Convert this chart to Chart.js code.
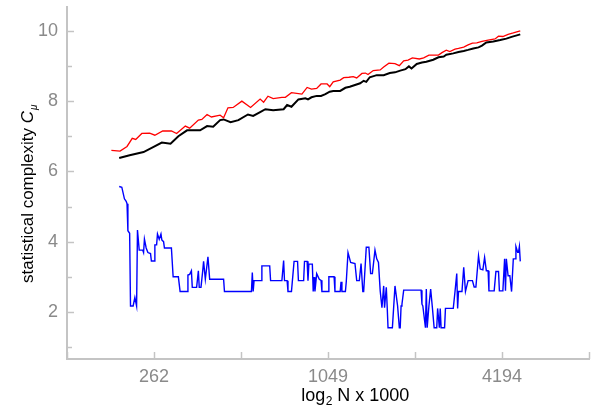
<!DOCTYPE html>
<html>
<head>
<meta charset="utf-8">
<script src="https://cdn.jsdelivr.net/npm/chart.js@4/dist/chart.umd.min.js"></script>
<style>
  html, body { margin: 0; padding: 0; background: #fff; }
  canvas { display: block; }
</style>
</head>
<body>
<canvas id="grafico" width="595" height="407"></canvas>
<script>
// x values are log2 N, y values are statistical complexity
const redX = [17.51, 17.61, 17.69, 17.75, 17.79, 17.86, 17.95, 18.01, 18.10, 18.20, 18.26, 18.36, 18.41, 18.51, 18.55, 18.61, 18.66, 18.76, 18.80, 18.85, 18.91, 19.01, 19.11, 19.22, 19.26, 19.31, 19.37, 19.47, 19.51, 19.58, 19.70, 19.76, 19.81, 19.87, 19.92, 19.99, 20.02, 20.06, 20.14, 20.18, 20.24, 20.29, 20.33, 20.39, 20.43, 20.46, 20.52, 20.60, 20.64, 20.70, 20.77, 20.82, 20.87, 20.92, 20.97, 21.05, 21.10, 21.16, 21.27, 21.31, 21.36, 21.40, 21.46, 21.50, 21.56, 21.61, 21.66, 21.71, 21.77, 21.84, 21.92, 21.96, 22.01, 22.07, 22.13, 22.21];
const redY = [6.60, 6.58, 6.71, 6.94, 6.91, 7.08, 7.09, 7.03, 7.15, 7.15, 7.08, 7.29, 7.23, 7.46, 7.48, 7.62, 7.55, 7.60, 7.53, 7.81, 7.82, 8.00, 7.82, 8.06, 7.97, 8.14, 8.07, 8.11, 8.11, 8.24, 8.20, 8.39, 8.34, 8.36, 8.49, 8.49, 8.41, 8.55, 8.60, 8.67, 8.68, 8.70, 8.66, 8.79, 8.80, 8.76, 8.87, 8.89, 8.97, 9.08, 9.07, 9.01, 9.15, 9.17, 9.23, 9.20, 9.23, 9.31, 9.31, 9.38, 9.45, 9.41, 9.48, 9.50, 9.54, 9.60, 9.65, 9.66, 9.70, 9.74, 9.77, 9.85, 9.84, 9.90, 9.94, 10.00];

const blackX = [17.60, 17.72, 17.88, 17.99, 18.09, 18.19, 18.28, 18.38, 18.53, 18.61, 18.68, 18.76, 18.80, 18.88, 18.97, 19.08, 19.14, 19.22, 19.28, 19.37, 19.49, 19.53, 19.58, 19.66, 19.74, 19.77, 19.81, 19.87, 19.92, 19.97, 20.02, 20.06, 20.14, 20.20, 20.25, 20.31, 20.37, 20.41, 20.44, 20.48, 20.56, 20.64, 20.71, 20.77, 20.83, 20.89, 20.93, 20.96, 21.02, 21.08, 21.13, 21.21, 21.27, 21.33, 21.36, 21.44, 21.50, 21.56, 21.61, 21.67, 21.73, 21.77, 21.82, 21.90, 21.98, 22.05, 22.11, 22.21];
const blackY = [6.38, 6.46, 6.55, 6.69, 6.82, 6.79, 7.00, 7.17, 7.17, 7.29, 7.27, 7.46, 7.48, 7.40, 7.46, 7.62, 7.58, 7.69, 7.77, 7.74, 7.77, 7.89, 7.84, 8.05, 8.08, 8.05, 8.11, 8.15, 8.15, 8.20, 8.27, 8.29, 8.29, 8.38, 8.41, 8.46, 8.51, 8.58, 8.55, 8.68, 8.74, 8.74, 8.80, 8.82, 8.87, 8.91, 8.99, 8.93, 9.06, 9.10, 9.12, 9.18, 9.25, 9.27, 9.32, 9.36, 9.40, 9.43, 9.46, 9.50, 9.53, 9.58, 9.67, 9.70, 9.74, 9.78, 9.83, 9.90];

const blueX = [17.60, 17.63, 17.66, 17.68, 17.69, 17.70, 17.72, 17.73, 17.76, 17.78, 17.80, 17.81, 17.83, 17.87, 17.88, 17.89, 17.91, 17.93, 17.96, 17.97, 18.00, 18.01, 18.03, 18.04, 18.06, 18.08, 18.09, 18.11, 18.12, 18.20, 18.22, 18.28, 18.30, 18.38, 18.39, 18.41, 18.43, 18.44, 18.49, 18.51, 18.52, 18.54, 18.56, 18.57, 18.59, 18.62, 18.64, 18.80, 18.81, 19.12, 19.13, 19.14, 19.15, 19.23, 19.24, 19.33, 19.34, 19.47, 19.49, 19.50, 19.53, 19.54, 19.58, 19.61, 19.65, 19.66, 19.72, 19.73, 19.76, 19.77, 19.78, 19.82, 19.83, 19.84, 19.85, 19.87, 19.90, 19.92, 19.93, 20.00, 20.01, 20.07, 20.08, 20.14, 20.15, 20.16, 20.20, 20.21, 20.23, 20.26, 20.31, 20.33, 20.36, 20.38, 20.40, 20.41, 20.44, 20.47, 20.49, 20.51, 20.54, 20.56, 20.58, 20.60, 20.62, 20.64, 20.65, 20.67, 20.68, 20.69, 20.74, 20.77, 20.80, 20.82, 20.83, 20.84, 20.85, 20.87, 21.07, 21.08, 21.09, 21.12, 21.13, 21.14, 21.16, 21.18, 21.20, 21.22, 21.25, 21.26, 21.28, 21.29, 21.30, 21.34, 21.35, 21.44, 21.46, 21.48, 21.49, 21.50, 21.54, 21.56, 21.58, 21.61, 21.66, 21.68, 21.70, 21.73, 21.75, 21.78, 21.80, 21.82, 21.84, 21.85, 21.91, 21.93, 21.96, 21.97, 22.01, 22.03, 22.04, 22.05, 22.07, 22.09, 22.11, 22.13, 22.15, 22.16, 22.18, 22.19, 22.20, 22.21];
const blueY = [5.57, 5.55, 5.22, 5.15, 5.08, 4.31, 4.24, 2.17, 2.17, 2.41, 2.17, 4.33, 3.76, 3.76, 3.69, 4.07, 3.82, 3.69, 3.66, 3.45, 3.45, 3.91, 3.91, 4.22, 4.07, 4.22, 4.05, 4.00, 3.82, 3.82, 3.00, 3.00, 2.58, 2.58, 3.05, 3.07, 3.17, 2.70, 2.70, 3.17, 2.70, 2.70, 3.17, 3.44, 2.93, 3.57, 2.93, 2.93, 2.58, 2.58, 3.12, 2.58, 2.89, 2.89, 3.31, 3.31, 2.89, 2.89, 3.46, 2.89, 2.89, 2.58, 2.58, 3.44, 3.44, 2.89, 2.89, 3.44, 3.44, 2.89, 3.36, 3.36, 2.58, 2.99, 2.58, 3.09, 2.93, 2.90, 2.58, 2.58, 3.00, 3.00, 2.58, 2.58, 2.86, 2.58, 2.58, 2.86, 3.69, 3.41, 3.38, 2.89, 2.89, 3.38, 2.58, 2.58, 3.84, 3.84, 3.09, 3.09, 3.76, 3.51, 3.41, 2.60, 2.12, 2.74, 2.12, 2.70, 2.17, 1.55, 1.55, 2.74, 2.17, 1.55, 1.55, 2.17, 2.22, 2.62, 2.62, 2.22, 2.17, 1.55, 2.65, 1.55, 2.17, 2.65, 2.12, 1.55, 1.55, 2.10, 1.55, 2.10, 1.55, 1.55, 2.10, 2.10, 2.58, 3.09, 2.10, 2.58, 2.58, 3.27, 2.58, 2.89, 2.89, 2.71, 2.71, 3.60, 3.22, 3.20, 3.55, 3.17, 3.17, 2.60, 2.60, 3.15, 3.15, 2.60, 2.60, 3.51, 2.60, 3.51, 3.03, 3.03, 2.58, 3.51, 3.51, 3.86, 3.70, 3.70, 3.86, 3.44];

const xTicks = [17, 18, 19, 20, 21, 22, 23];
const yTicks = [1, 2, 3, 4, 5, 6, 7, 8, 9, 10];

const fuente = '"Liberation Sans", Arial, sans-serif';
const grisEje = '#c4c4c4';
const grisTexto = '#8a8a8a';

function puntos(xs, ys) {
    return xs.map((x, i) => ({ x: x, y: ys[i] }));
}

// inward tick marks and axis titles (with subscripts)
const decoracion = {
    id: 'decoracion',
    afterDraw(chart) {
        const ctx = chart.ctx;
        const sx = chart.scales.x;
        const sy = chart.scales.y;
        const area = chart.chartArea;
        ctx.save();
        ctx.strokeStyle = grisEje;
        ctx.lineWidth = 1.5;
        xTicks.forEach(v => {
            const px = Math.round(sx.getPixelForValue(v)) + 0.5;
            ctx.beginPath();
            ctx.moveTo(px, area.bottom);
            ctx.lineTo(px, area.bottom - 7);
            ctx.stroke();
        });
        yTicks.forEach(v => {
            const py = Math.round(sy.getPixelForValue(v)) + 0.5;
            const largo = v % 2 === 0 ? 7 : 5;
            ctx.beginPath();
            ctx.moveTo(area.left, py);
            ctx.lineTo(area.left + largo, py);
            ctx.stroke();
        });

        ctx.fillStyle = '#000';
        ctx.textBaseline = 'alphabetic';
        // x title
        const a = 'log', b = ' N x 1000';
        ctx.font = '12px ' + fuente;
        const wSub = ctx.measureText('2').width;
        ctx.font = '18px ' + fuente;
        const wa = ctx.measureText(a).width, wb = ctx.measureText(b).width;
        let x0 = 355 - (wa + wSub + wb) / 2;
        const yb = 401;
        ctx.textAlign = 'left';
        ctx.fillText(a, x0, yb);
        ctx.font = '12px ' + fuente;
        ctx.fillText('2', x0 + wa + 0.5, yb + 4);
        ctx.font = '18px ' + fuente;
        ctx.fillText(b, x0 + wa + wSub + 0.5, yb);

        // y title
        ctx.font = '17px ' + fuente;
        ctx.translate(33, 283);
        ctx.rotate(-Math.PI / 2);
        const t = 'statistical complexity ';
        ctx.fillText(t, 0, 0);
        const wt = ctx.measureText(t).width;
        ctx.font = 'italic 17px ' + fuente;
        ctx.fillText('C', wt, 0);
        const wc = ctx.measureText('C').width;
        ctx.font = 'italic 10px ' + fuente;
        ctx.fillText('\u03bc', wt + wc + 1, 4);
        ctx.restore();
    }
};

const ctxGrafico = document.getElementById('grafico').getContext('2d');
const grafico = new Chart(ctxGrafico, {
    type: 'line',
    data: {
        datasets: [
            { data: puntos(redX, redY), borderColor: '#ff0000', borderWidth: 1.3 },
            { data: puntos(blackX, blackY), borderColor: '#000000', borderWidth: 2 },
            { data: puntos(blueX, blueY), borderColor: '#0000ff', borderWidth: 1.4 }
        ]
    },
    options: {
        responsive: false,
        animation: false,
        devicePixelRatio: 1,
        elements: {
            point: { radius: 0 },
            line: { tension: 0, fill: false }
        },
        layout: { padding: { top: 7, right: 6, left: 0, bottom: 0 } },
        plugins: {
            legend: { display: false },
            tooltip: { enabled: false }
        },
        scales: {
            x: {
                type: 'linear',
                min: 17,
                max: 23,
                afterBuildTicks: s => { s.ticks = xTicks.map(v => ({ value: v })); },
                afterFit: s => { s.height = 48; s.paddingLeft = 0; s.paddingRight = 0; },
                grid: { drawOnChartArea: false, drawTicks: false },
                border: { display: true, color: grisEje, width: 2 },
                ticks: {
                    autoSkip: false,
                    maxRotation: 0,
                    padding: 7,
                    color: grisTexto,
                    font: { family: fuente, size: 18 },
                    callback: v => (v % 2 === 0 ? String(Math.round(Math.pow(2, v) / 1000)) : '')
                }
            },
            y: {
                type: 'linear',
                min: 0.66,
                max: 10.68,
                afterBuildTicks: s => { s.ticks = yTicks.map(v => ({ value: v })); },
                afterFit: s => { s.width = 67; s.paddingTop = 0; s.paddingBottom = 0; },
                grid: { drawOnChartArea: false, drawTicks: false },
                border: { display: true, color: grisEje, width: 2 },
                ticks: {
                    autoSkip: false,
                    padding: 9,
                    color: grisTexto,
                    font: { family: fuente, size: 18 },
                    callback: v => (v % 2 === 0 ? String(v) : '')
                }
            }
        }
    },
    plugins: [decoracion]
});
</script>
</body>
</html>
